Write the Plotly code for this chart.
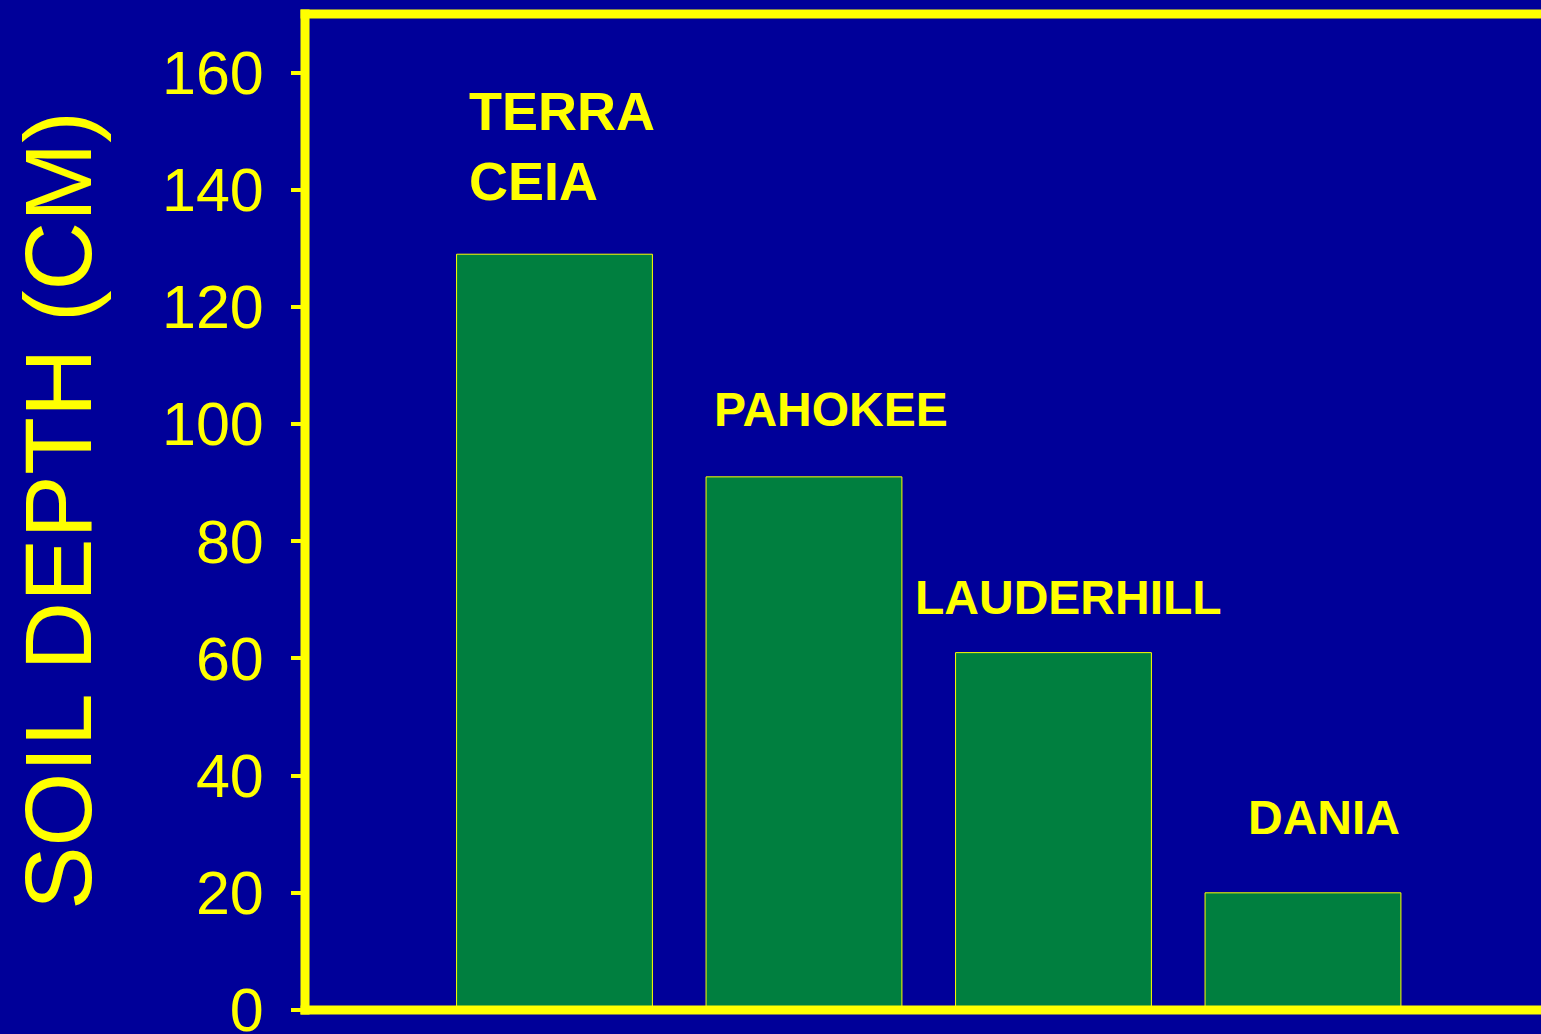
import plotly.graph_objects as go

soils = ["TERRA CEIA", "PAHOKEE", "LAUDERHILL", "DANIA"]
label_text = ["TERRA<br>CEIA", "PAHOKEE", "LAUDERHILL", "DANIA"]
depth_cm = [129, 91, 61, 20]
y_ticks = [0, 20, 40, 60, 80, 100, 120, 140, 160]

BG = "#000099"
YEL = "#FFFF00"
GREEN = "#007F3F"
SANS = "Liberation Sans, Arial, sans-serif"

# label styling (pixel offsets from bar top centre)
lab_xanchor = ["left", "center", "center", "center"]
lab_xshift = [-88, 27, 15, 21]
lab_yshift = [108, 67, 55, 75]
lab_size = [54, 48, 48, 48]

xpos = list(range(len(soils)))

fig = go.Figure(go.Bar(
    x=xpos, y=depth_cm, width=0.785,
    marker=dict(color=GREEN, line=dict(color=YEL, width=1)),
    hoverinfo="skip",
))

for i, t in enumerate(label_text):
    fig.add_annotation(
        x=xpos[i], y=depth_cm[i], xref="x", yref="y", text=t, showarrow=False,
        xanchor=lab_xanchor[i], yanchor="middle", align="left",
        xshift=lab_xshift[i], yshift=lab_yshift[i],
        font=dict(family=SANS, size=lab_size[i], color=YEL, weight="bold"),
    )

fig.add_annotation(
    text="SOIL DEPTH (CM)", xref="paper", yref="paper", x=-0.2, y=0.502,
    textangle=-90, showarrow=False, xanchor="center", yanchor="middle",
    font=dict(family=SANS, size=95, color=YEL),
)

# frame lines (left, top, bottom)
lw = 9
fig.add_shape(type="line", xref="paper", yref="paper", x0=0, x1=0, y0=-0.0045, y1=1.0045,
              line=dict(color=YEL, width=lw), layer="above")
fig.add_shape(type="line", xref="paper", yref="paper", x0=-0.0036, x1=1.01, y0=1, y1=1,
              line=dict(color=YEL, width=lw), layer="above")
fig.add_shape(type="line", xref="paper", yref="paper", x0=-0.0036, x1=1.01, y0=0, y1=0,
              line=dict(color=YEL, width=lw), layer="above")

fig.update_layout(
    width=1541, height=1034,
    margin=dict(l=305, r=0, t=14, b=24, autoexpand=False),
    paper_bgcolor=BG, plot_bgcolor=BG,
    showlegend=False,
    xaxis=dict(range=[-1, 3.954], showticklabels=False, ticks="", showgrid=False,
               zeroline=False, showline=False, automargin=False),
    yaxis=dict(range=[0, 170], tickvals=y_ticks, ticks="outside", ticklen=13,
               tickwidth=4, tickcolor=YEL, showgrid=False, zeroline=False, showline=False,
               tickfont=dict(family=SANS, size=61, color=YEL), ticklabelstandoff=15,
               ticklabeloverflow="allow", automargin=False),
)

fig.write_html(
    "out.html",
    config={"displayModeBar": False},
    post_script="document.body.style.margin='0';document.body.style.background='#000099';",
)
